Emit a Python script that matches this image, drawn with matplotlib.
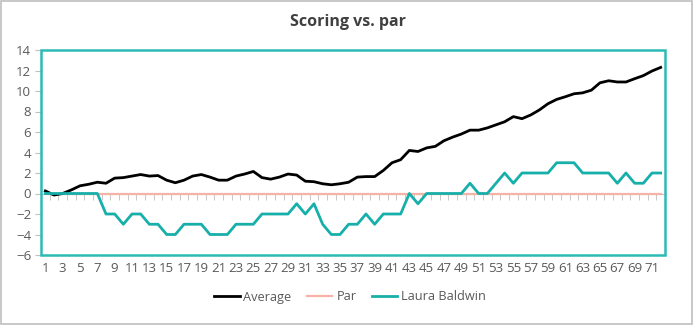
import numpy as np
import matplotlib
matplotlib.use("Agg")
import matplotlib.pyplot as plt
from matplotlib.patches import Rectangle

plt.rcParams['font.family'] = ['Open Sans', 'DejaVu Sans']

rounds = list(range(1, 73))
average = [0.25, -0.15, 0.0, 0.35, 0.75, 0.9, 1.1, 1.0, 1.5, 1.55,
           1.7, 1.85, 1.7, 1.75, 1.3, 1.05, 1.3, 1.7, 1.85, 1.6,
           1.3, 1.3, 1.7, 1.9, 2.15, 1.55, 1.4, 1.6, 1.9, 1.8,
           1.2, 1.15, 0.95, 0.85, 0.95, 1.1, 1.6, 1.65, 1.65, 2.25,
           3.0, 3.3, 4.2, 4.1, 4.45, 4.6, 5.15, 5.5, 5.8, 6.18,
           6.18, 6.4, 6.7, 7.0, 7.5, 7.3, 7.66, 8.15, 8.76, 9.18,
           9.44, 9.73, 9.82, 10.08, 10.8, 11.0, 10.88, 10.88, 11.2, 11.5,
           11.95, 12.3]
par = [0] * 72
laura = [0, 0, 0, 0, 0, 0, 0, -2, -2, -3,
         -2, -2, -3, -3, -4, -4, -3, -3, -3, -4,
         -4, -4, -3, -3, -3, -2, -2, -2, -2, -1,
         -2, -1, -3, -4, -4, -3, -3, -2, -3, -2,
         -2, -2, 0, -1, 0, 0, 0, 0, 0, 1,
         0, 0, 1, 2, 1, 2, 2, 2, 2, 3,
         3, 3, 2, 2, 2, 2, 1, 2, 1, 1,
         2, 2]

teal = '#2DBAB5'
grey_txt = '#595959'

fig = plt.figure(figsize=(6.97, 3.25), dpi=100)
ax = fig.add_axes([41 / 697, 70 / 325, 624 / 697, 205 / 325])

ax.plot(rounds, average, color='black', lw=2, label='Average', zorder=4)
ax.plot(rounds, par, color='#F4B3A6', lw=1.6, label='Par', zorder=3)
ax.plot(rounds, laura, color='#17AFA9', lw=2, label='Laura Baldwin', zorder=4)

ax.set_xlim(0.5, 72.5)
ax.set_ylim(-6, 14)
ax.set_yticks(np.arange(-6, 15, 2))

# category axis crosses at zero: ticks at category boundaries
ax.spines['bottom'].set_position(('data', 0))
ax.spines['bottom'].set_color('#BFBFBF')
ax.set_xticks([])
ax.set_xticks(np.arange(0.5, 73, 1), minor=True)
ax.tick_params(axis='x', which='minor', direction='out', length=4, color='#BFBFBF')
for s in ['top', 'right', 'left']:
    ax.spines[s].set_visible(False)
ax.tick_params(axis='y', length=4, color='#BFBFBF', labelcolor=grey_txt,
               labelsize=9.5, pad=3)

# labels along the bottom
sec = ax.secondary_xaxis('bottom')
sec.set_xticks(range(1, 72, 2))
sec.tick_params(length=0, labelcolor=grey_txt, labelsize=9.5, pad=5)
sec.spines['bottom'].set_visible(False)

ax.add_patch(Rectangle((0, 0), 1, 1, transform=ax.transAxes, fill=False,
                       edgecolor=teal, lw=1.8, clip_on=False, zorder=5))

fig.text(0.5, 1 - 22 / 325, 'Scoring vs. par', ha='center', va='center',
         fontsize=11.5, fontweight='bold', color='#404040')

fig.legend(loc='center', bbox_to_anchor=(350 / 697, 1 - 297 / 325), ncol=3,
           frameon=False, fontsize=9.2, handlelength=2.0, handletextpad=0.3,
           columnspacing=1.2, labelcolor=grey_txt)

fig.patches.append(Rectangle((1 / 697, 1 / 325), 691 / 697, 323 / 325,
                             transform=fig.transFigure, fill=False,
                             edgecolor='#BFBFBF', lw=1.2))

fig.savefig('out.png', dpi=100)
